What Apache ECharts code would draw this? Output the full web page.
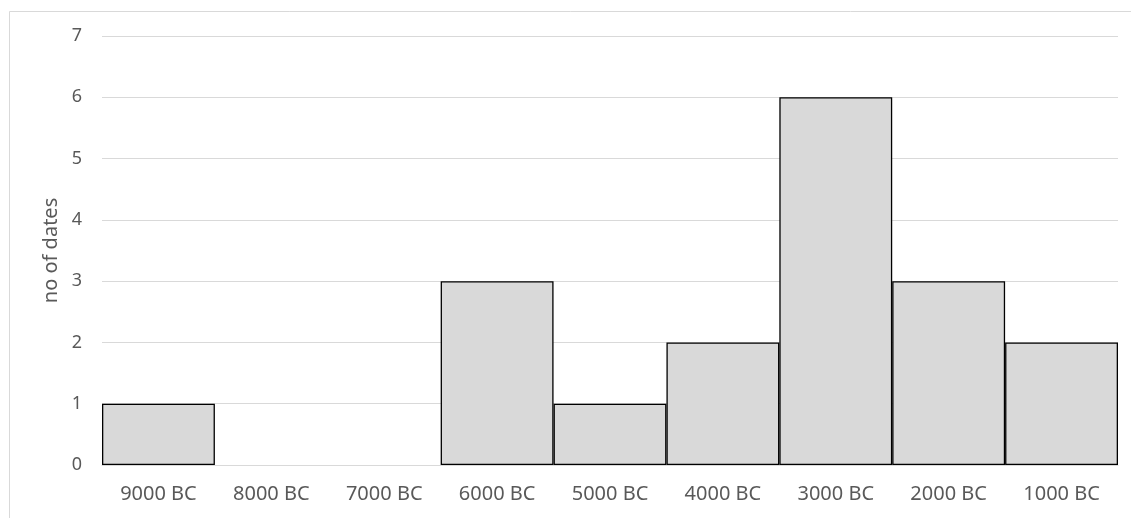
<!DOCTYPE html>
<html><head><meta charset="utf-8">
<script src="https://cdn.jsdelivr.net/npm/echarts@6/dist/echarts.min.js"></script>
<style>html,body{margin:0;padding:0;background:#fff}#c{width:1131px;height:518px}</style>
</head><body><div id="c"></div>
<script>
const categories = ['9000 BC','8000 BC','7000 BC','6000 BC','5000 BC','4000 BC','3000 BC','2000 BC','1000 BC'];
const values = [1,0,0,3,1,2,6,3,2];
const chart = echarts.init(document.getElementById('c'));
chart.setOption({
  animation:false,
  backgroundColor:'#fff',
  graphic:[{type:'polyline',shape:{points:[[9.5,518],[9.5,11.5],[1131,11.5]]},style:{stroke:'#d9d9d9',lineWidth:1,fill:null}}],
  grid:{left:102,right:13,top:36,bottom:53},
  xAxis:{type:'category',data:categories,axisTick:{show:false},
    axisLine:{lineStyle:{color:'#d9d9d9'}},
    axisLabel:{color:'#595959',fontSize:20,fontFamily:'Noto Sans',margin:19}},
  yAxis:{type:'value',min:0,max:7,interval:1,name:'no of dates',nameLocation:'middle',nameGap:32,
    nameTextStyle:{color:'#595959',fontSize:20,fontFamily:'Noto Sans'},
    axisLabel:{color:'#595959',fontSize:18,fontFamily:'Noto Sans',margin:20},
    splitLine:{lineStyle:{color:'#d9d9d9'}}},
  series:[{type:'bar',
    data:values.map(v=>({value:v,itemStyle:v===0?{borderWidth:0}:{}})),
    barCategoryGap:'0%',
    itemStyle:{color:'#d9d9d9',borderColor:'#000',borderWidth:1.3}}]
});
</script></body></html>
